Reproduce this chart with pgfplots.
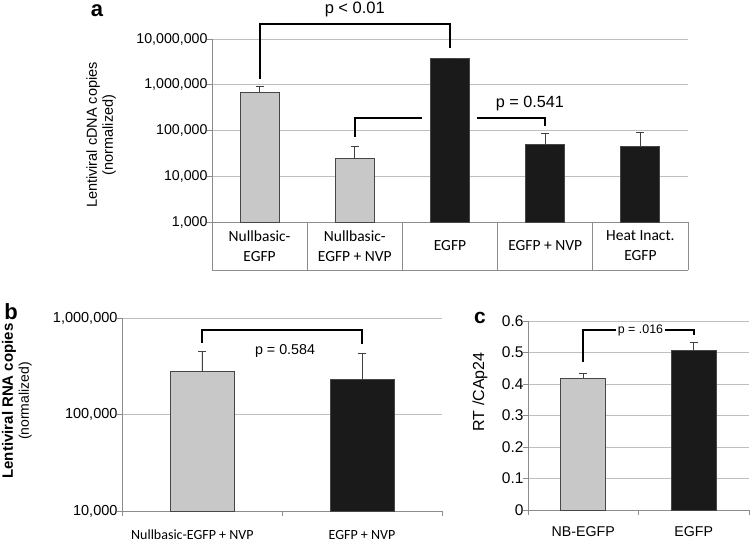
\documentclass[border=0pt]{standalone}
\usepackage{fontspec}
\setmainfont{Liberation Sans}
\newfontfamily\calibri{Carlito}
\usepackage{pgfplots}
\pgfplotsset{compat=1.18}
\definecolor{bargray}{RGB}{200,200,200}
\definecolor{barblack}{RGB}{26,26,26}
\definecolor{gridgray}{RGB}{190,190,190}
\definecolor{axisgray}{RGB}{140,140,140}
\definecolor{edgegray}{RGB}{70,70,70}

\pgfplotsset{
  panel/.style={
    scale only axis, clip=false,
    axis x line=bottom, axis y line=left,
    axis line style={-, draw=axisgray, line width=0.8pt},
    ymajorgrids, grid style={gridgray, line width=0.8pt},
    xtick=\empty, yminorticks=false,
    tick align=outside, major tick length=5pt,
    ytick style={draw=axisgray, line width=0.8pt},
    yticklabel style={xshift=4pt},
    ybar, bar shift=0pt,
    xmin=-0.5,
    every axis plot/.append style={draw=edgegray, line width=0.9pt},
    error bars/y dir=plus, error bars/y explicit,
    error bars/error bar style={black!75, line width=0.8pt},
    error bars/error mark options={rotate=90, black!75, line width=0.8pt, mark size=4pt},
  }
}

\begin{document}
\begin{tikzpicture}
\path[use as bounding box] (0,0) rectangle (750pt,543pt);

% ---- panel a
\begin{axis}[panel, at={(212pt,321pt)}, anchor=south west,
  width=476pt, height=183pt,
  ymode=log, log origin y=infty, ymin=1000, ymax=1e7, xmax=4.5, bar width=39pt,
  ytick={1000,10000,100000,1000000,10000000},
  yticklabels={{1,000},{10,000},{100,000},{1,000,000},{10,000,000}},
  yticklabel style={font=\fontsize{14.2}{16}\selectfont},
]
\addplot[fill=bargray] coordinates {(0,680000) +- (0,262000) (1,24000) +- (0,19800)};
\addplot[fill=barblack] coordinates {(2,3720000) +- (0,80000) (3,48500) +- (0,35800) (4,43800) +- (0,45200)};

\draw[axisgray, line width=0.8pt] ([yshift=-48pt]axis cs:-0.5,1000) -- ([yshift=-48pt]axis cs:4.5,1000);
\draw[axisgray, line width=0.8pt] (axis cs:-0.5,1000) -- ([yshift=-48pt]axis cs:-0.5,1000);
\draw[axisgray, line width=0.8pt] (axis cs:0.5,1000) -- ([yshift=-48pt]axis cs:0.5,1000);
\draw[axisgray, line width=0.8pt] (axis cs:1.5,1000) -- ([yshift=-48pt]axis cs:1.5,1000);
\draw[axisgray, line width=0.8pt] (axis cs:2.5,1000) -- ([yshift=-48pt]axis cs:2.5,1000);
\draw[axisgray, line width=0.8pt] (axis cs:3.5,1000) -- ([yshift=-48pt]axis cs:3.5,1000);
\draw[axisgray, line width=0.8pt] (axis cs:4.5,1000) -- ([yshift=-48pt]axis cs:4.5,1000);

\begin{scope}[every node/.style={font=\calibri\fontsize{15.5}{20}\selectfont, align=center}]
\node at ([yshift=-24pt]axis cs:0,1000) {Nullbasic-\\EGFP};
\node at ([yshift=-24pt]axis cs:1,1000) {Nullbasic-\\EGFP + NVP};
\node at ([yshift=-24pt]axis cs:2,1000) {EGFP};
\node at ([yshift=-24pt]axis cs:3,1000) {EGFP + NVP};
\node at ([yshift=-24pt]axis cs:4,1000) {Heat Inact.\\EGFP};
\end{scope}

\draw[black, line width=2.2pt] (axis cs:0,1.34e6) -- (axis cs:0,2.13e7) -- (axis cs:2,2.13e7) -- (axis cs:2,6.3e6);
\node[font=\fontsize{16.5}{18}\selectfont] at (axis cs:1,4.5e7) {p < 0.01};
\draw[black, line width=2.2pt] (axis cs:1,72400) -- (axis cs:1,190000) -- (axis cs:1.706,190000);
\draw[black, line width=2.2pt] (axis cs:2.284,190000) -- (axis cs:3,190000) -- (axis cs:3,126000);
\node[font=\fontsize{16.2}{18}\selectfont] at (axis cs:2.84,398000) {p = 0.541};
\end{axis}

% ---- panel b
\begin{axis}[panel, at={(122pt,32pt)}, anchor=south west,
  width=320pt, height=193pt,
  ymode=log, log origin y=infty, ymin=1e4, ymax=1e6, xmax=1.5, bar width=64pt,
  ytick={10000,100000,1000000},
  yticklabels={{10,000},{100,000},{1,000,000}},
  yticklabel style={font=\fontsize{14.5}{16}\selectfont},
]
\addplot[fill=bargray] coordinates {(0,278000) +- (0,177000)};
\addplot[fill=barblack] coordinates {(1,232000) +- (0,202000)};
\draw[axisgray, line width=0.8pt] (axis cs:-0.5,1e4) -- ([yshift=-5pt]axis cs:-0.5,1e4);
\draw[axisgray, line width=0.8pt] (axis cs:0.5,1e4) -- ([yshift=-5pt]axis cs:0.5,1e4);
\draw[axisgray, line width=0.8pt] (axis cs:1.5,1e4) -- ([yshift=-5pt]axis cs:1.5,1e4);
\node[font=\calibri\fontsize{14}{16}\selectfont] at ([yshift=-24pt]axis cs:-0.06,1e4) {Nullbasic-EGFP + NVP};
\node[font=\calibri\fontsize{14}{16}\selectfont] at ([yshift=-24pt]axis cs:1,1e4) {EGFP + NVP};
\draw[black, line width=2pt] (axis cs:0,555000) -- (axis cs:0,751000) -- (axis cs:1,751000) -- (axis cs:1,538000);
\node[font=\fontsize{14.3}{16}\selectfont] at (axis cs:0.519,455000) {p = 0.584};
\end{axis}

% ---- panel c
\begin{axis}[panel, at={(528pt,33pt)}, anchor=south west,
  width=221pt, height=189pt,
  ymin=0, ymax=0.6, xmax=1.5, bar width=45pt,
  ytick={0,0.1,0.2,0.3,0.4,0.5,0.6},
  yticklabels={0,0.1,0.2,0.3,0.4,0.5,0.6},
  yticklabel style={font=\fontsize{15.5}{17}\selectfont},
]
\addplot[fill=bargray] coordinates {(0,0.418) +- (0,0.015)};
\addplot[fill=barblack] coordinates {(1,0.508) +- (0,0.025)};
\draw[axisgray, line width=0.8pt] (axis cs:-0.5,0) -- ([yshift=-5pt]axis cs:-0.5,0);
\draw[axisgray, line width=0.8pt] (axis cs:0.5,0) -- ([yshift=-5pt]axis cs:0.5,0);
\draw[axisgray, line width=0.8pt] (axis cs:1.5,0) -- ([yshift=-5pt]axis cs:1.5,0);
\node[font=\fontsize{14.2}{16}\selectfont] at ([yshift=-22pt]axis cs:0,0) {NB-EGFP};
\node[font=\fontsize{14.2}{16}\selectfont] at ([yshift=-22pt]axis cs:1,0) {EGFP};
\draw[black, line width=1.6pt] (axis cs:0,0.471) -- (axis cs:0,0.5705) -- (axis cs:1,0.5705) -- (axis cs:1,0.5556);
\node[font=\fontsize{12.4}{14}\selectfont, fill=white, inner sep=2pt] at (axis cs:0.518,0.5705) {p = .016};
\end{axis}

% ---- panel letters and axis titles
\node[font=\bfseries\fontsize{22}{22}\selectfont] at (97pt,532pt) {a};
\node[font=\bfseries\fontsize{22}{22}\selectfont] at (11pt,231pt) {b};
\node[font=\bfseries\fontsize{21}{21}\selectfont] at (480pt,225pt) {c};
\node[rotate=90, align=center, font=\fontsize{14.5}{16}\selectfont] at (101pt,408pt) {Lentiviral cDNA copies\\(normalized)};
\node[rotate=90, align=center, font=\fontsize{14}{16}\selectfont] at (17pt,142pt) {{\bfseries\fontsize{15}{16}\selectfont Lentiviral RNA copies}\\(normalized)};
\node[rotate=90, font=\fontsize{16}{18}\selectfont] at (480pt,151pt) {RT /CAp24};
\end{tikzpicture}
\end{document}
